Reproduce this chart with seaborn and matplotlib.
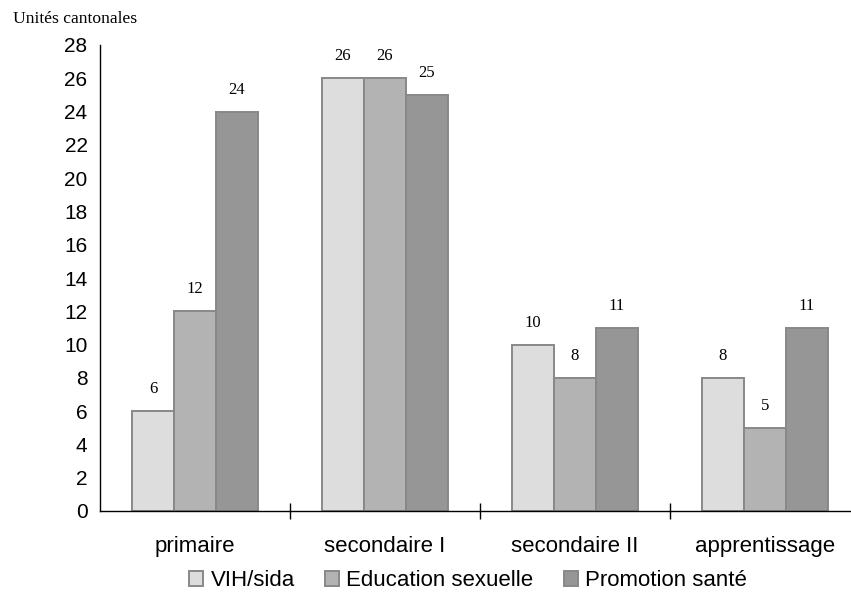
import matplotlib
matplotlib.use("Agg")
import matplotlib.pyplot as plt
import pandas as pd
import seaborn as sns

categories = ["primaire", "secondaire I", "secondaire II", "apprentissage"]
series_names = ["VIH/sida", "Education sexuelle", "Promotion santé"]
vih_sida = [6, 26, 10, 8]
education_sexuelle = [12, 26, 8, 5]
promotion_sante = [24, 25, 11, 11]
y_ticks = list(range(0, 29, 2))

colors = ["#dddddd", "#b3b3b3", "#969696"]

sns.set_theme(style="white")
plt.rcParams["font.family"] = ["Liberation Sans", "DejaVu Sans"]
plt.rcParams["text.color"] = "black"
plt.rcParams["xtick.color"] = "black"
plt.rcParams["ytick.color"] = "black"

df = pd.DataFrame({
    "categorie": categories * 3,
    "serie": [s for s in series_names for _ in categories],
    "valeur": vih_sida + education_sexuelle + promotion_sante,
})

fig = plt.figure(figsize=(8.51, 6.02), dpi=100)
ax = fig.add_axes([100 / 851, 1 - 511 / 602, 760 / 851, (511 - 45) / 602])

sns.barplot(data=df, x="categorie", y="valeur", hue="serie", order=categories,
            hue_order=series_names, palette=colors, width=0.663, gap=0,
            edgecolor="#888888", linewidth=1.4, saturation=1, ax=ax, legend=False)

for cont in ax.containers:
    ax.bar_label(cont, padding=10, fontsize=12, family="Liberation Serif", color="black")

ax.set_ylim(0, 28)
ax.set_xlim(-0.5, 3.5)
ax.set_yticks(y_ticks)
ax.tick_params(axis="y", length=0, labelsize=15, pad=9, labelcolor="black")
ax.tick_params(axis="x", which="major", length=0, labelsize=16, pad=18, labelcolor="black")
ax.set_xticks([0.5, 1.5, 2.5], minor=True)
ax.tick_params(axis="x", which="minor", bottom=True, direction="inout",
               length=11, width=1, color="black")
ax.set_xlabel("")
ax.set_ylabel("")
for side in ["top", "right"]:
    ax.spines[side].set_visible(False)
for side in ["left", "bottom"]:
    ax.spines[side].set_color("black")
    ax.spines[side].set_linewidth(1)

fig.text(13 / 851, 1 - 19 / 602, "Unités cantonales", fontsize=12.6,
         family="Liberation Serif", va="center", ha="left", color="black")

handles = [plt.Rectangle((0, 0), 1, 1, facecolor=c, edgecolor="#888888", linewidth=1.4)
           for c in colors]
fig.legend(handles, series_names, loc="center", ncol=3, frameon=False,
           bbox_to_anchor=(468 / 851, 1 - 581 / 602), fontsize=16, labelcolor="black",
           handlelength=0.63, handleheight=0.63, handletextpad=0.32, columnspacing=1.36)

fig.savefig("out.png", dpi=100)
